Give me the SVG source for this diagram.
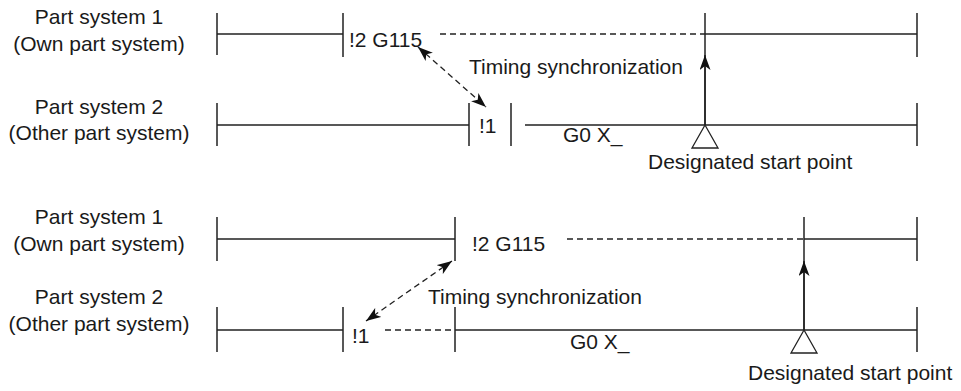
<svg xmlns="http://www.w3.org/2000/svg" width="961" height="391" viewBox="0 0 961 391">
<defs>
<marker id="ah" viewBox="0 0 15 11" refX="15" refY="5.5" markerWidth="15" markerHeight="11" markerUnits="userSpaceOnUse" orient="auto-start-reverse">
<path d="M0,0 L15,5.5 L0,11 L4,5.5 Z" fill="#111"/>
</marker>
</defs>
<style>
text{font-family:"Liberation Sans",Arial,sans-serif;font-size:21px;fill:#1a1a1a}
.lbl{text-anchor:middle}
.s{stroke:#222;stroke-width:1.5;fill:none}
.d{stroke:#222;stroke-width:1.3;fill:none;stroke-dasharray:6,4}
.tri{stroke:#222;stroke-width:1.3;fill:#fff}
</style>
<rect width="961" height="391" fill="#fff"/>

<g id="labels-top">
<text class="lbl" x="99" y="24">Part system 1</text>
<text class="lbl" x="99" y="51">(Own part system)</text>
<text class="lbl" x="99" y="114">Part system 2</text>
<text class="lbl" x="99" y="140">(Other part system)</text>
</g>

<g id="top-ps1">
<path class="s" d="M217,13V55 M217,34H343 M343,13V57 M705,34H917 M917,13V57"/>
<path class="d" d="M440,34H705"/>
<text x="349" y="47">!2 G115</text>
</g>

<g id="top-ps2">
<path class="s" d="M217,103V146 M217,125H469 M469,103V146 M511,103V146 M525,125H917 M917,103V146"/>
<text x="479" y="133">!1</text>
<text x="563" y="142">G0 X_</text>
</g>

<g id="top-start">
<path class="tri" d="M705,125 L718,148 L692,148 Z"/>
<text x="648" y="169">Designated start point</text>
</g>

<g id="top-connectors">
<path class="s" d="M705,13V125"/>
<path class="s" d="M705,125V55" marker-end="url(#ah)"/>
<path class="d" d="M418,47 L486,107" marker-start="url(#ah)" marker-end="url(#ah)"/>
<text x="469" y="74">Timing synchronization</text>
</g>

<g id="labels-bottom">
<text class="lbl" x="99" y="224">Part system 1</text>
<text class="lbl" x="99" y="251">(Own part system)</text>
<text class="lbl" x="99" y="304">Part system 2</text>
<text class="lbl" x="99" y="331">(Other part system)</text>
</g>

<g id="bot-ps1">
<path class="s" d="M217,217V261 M217,239H455 M455,217V261 M804,239H917 M917,217V261"/>
<path class="d" d="M567,239H804"/>
<text x="472" y="251">!2 G115</text>
</g>

<g id="bot-ps2">
<path class="s" d="M217,307V352 M217,330H343 M343,307V352 M455,307V352 M455,330H917 M917,307V352"/>
<path class="d" d="M385,330H455"/>
<text x="352" y="343">!1</text>
<text x="570" y="349">G0 X_</text>
</g>

<g id="bot-start">
<path class="tri" d="M804,330 L817,353 L791,353 Z"/>
<text x="748" y="380">Designated start point</text>
</g>

<g id="bot-connectors">
<path class="s" d="M804,217V330"/>
<path class="s" d="M804,330V261" marker-end="url(#ah)"/>
<path class="d" d="M452,261 L366,321" marker-start="url(#ah)" marker-end="url(#ah)"/>
<text x="428" y="304">Timing synchronization</text>
</g>
</svg>
